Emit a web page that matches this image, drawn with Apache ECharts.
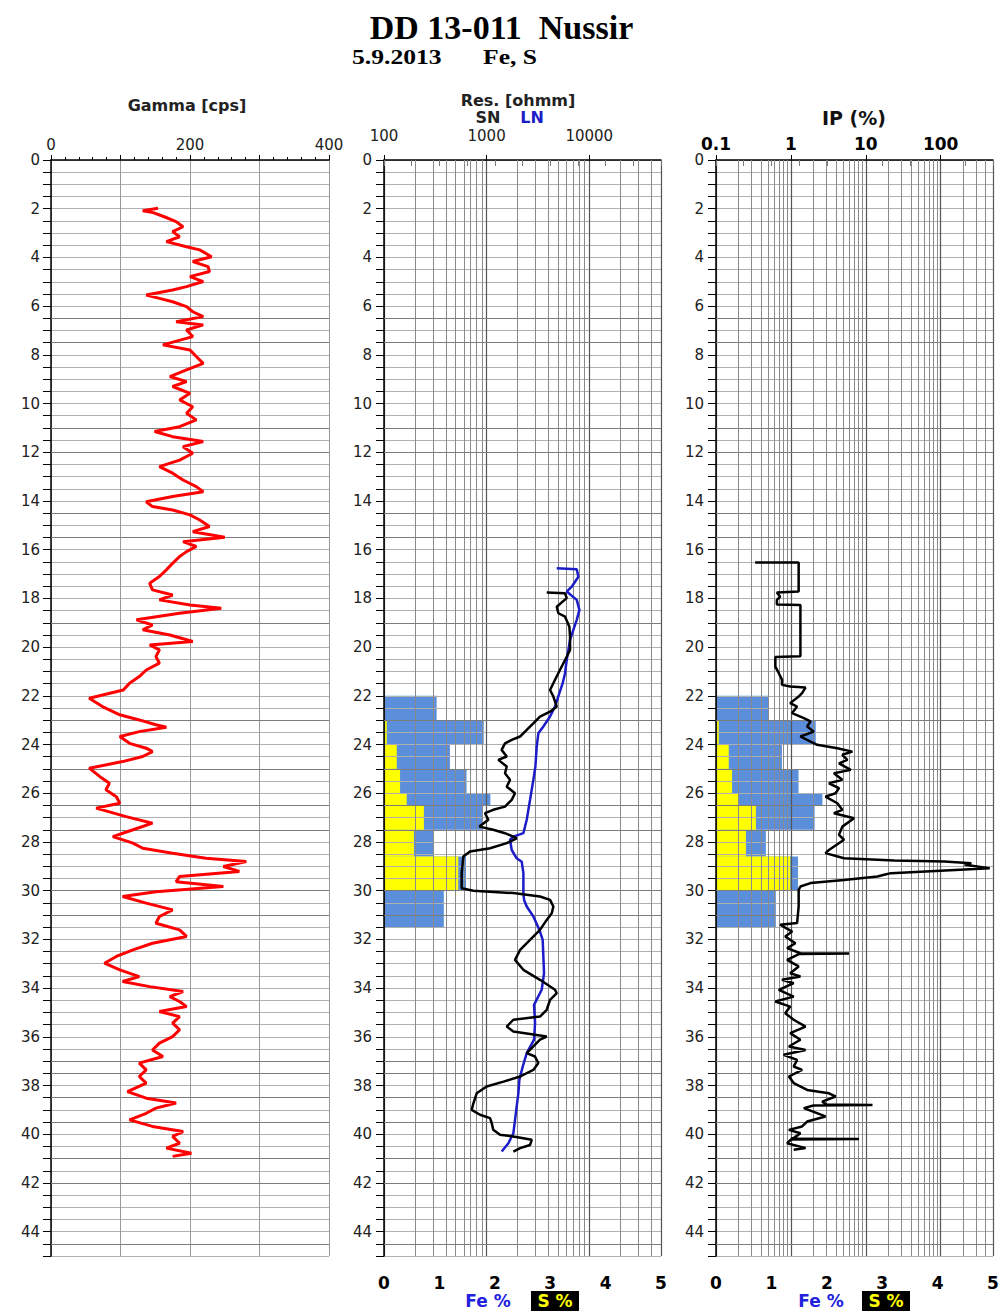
<!DOCTYPE html>
<html><head><meta charset="utf-8">
<script src="https://cdn.jsdelivr.net/npm/echarts@6.0.0/dist/echarts.min.js"></script>
<style>html,body{margin:0;padding:0;background:#fff}#c{width:1003px;height:1311px}</style>
</head><body><div id="c"></div>
<script>
// ---------- DATA ----------
// Gamma [cps] : [depth m, cps]
const gammaLog = [[1.98,154],[2.08,132],[2.16,147],[2.33,163],[2.53,180],[2.74,190],[2.94,175],[3.15,185],[3.35,166],[3.56,195],[3.69,214],[3.97,231],[4.17,204],[4.38,226],[4.58,228],[4.79,200],[4.99,219],[5.20,195],[5.34,175],[5.54,137],[5.68,156],[5.82,175],[6.02,195],[6.23,204],[6.43,219],[6.64,180],[6.77,219],[6.98,195],[7.25,204],[7.59,161],[7.80,200],[8.07,209],[8.35,219],[8.62,195],[8.89,171],[9.10,195],[9.30,175],[9.58,200],[9.85,185],[10.13,204],[10.40,195],[10.67,209],[10.95,185],[11.15,149],[11.36,175],[11.56,219],[11.77,190],[12.04,204],[12.32,185],[12.59,156],[12.86,175],[13.14,190],[13.41,209],[13.62,219],[13.82,175],[14.03,137],[14.23,146],[14.37,175],[14.57,200],[14.78,214],[15.05,228],[15.26,204],[15.49,250],[15.67,190],[15.87,209],[16.08,195],[16.28,185],[16.56,175],[16.83,166],[17.10,156],[17.38,142],[17.65,146],[17.86,175],[18.06,156],[18.27,200],[18.40,245],[18.61,185],[18.88,123],[19.09,146],[19.29,132],[19.50,171],[19.77,204],[19.91,142],[20.11,156],[20.39,151],[20.66,156],[20.94,137],[21.21,127],[21.48,113],[21.76,104],
[22.10,55],[22.44,74],[22.78,99],[22.99,127],[23.19,151],[23.29,166],[23.47,127],[23.67,99],[23.95,113],[24.15,137],[24.29,146],[24.49,132],[24.70,103],[24.97,55],[25.31,70],[25.59,84],[25.86,79],[26.14,94],[26.41,99],[26.61,65],[26.96,108],[27.23,146],[27.50,118],[27.78,89],[28.05,118],[28.26,132],[28.46,175],[28.67,223],[28.80,281],[29.01,248],[29.21,271],[29.42,185],[29.63,180],[29.83,248],[30.04,151],[30.24,103],[30.51,137],[30.79,175],[31.06,156],[31.34,151],[31.61,185],[31.88,195],[32.16,146],[32.43,118],[32.70,94],[32.98,77],[33.25,99],[33.53,127],[33.73,103],[33.94,142],[34.14,190],[34.35,171],[34.55,185],[34.76,195],[34.96,156],[35.17,185],[35.44,175],[35.71,185],[35.99,175],[36.26,156],[36.54,146],[36.81,161],[37.08,127],[37.36,137],[37.63,127],[37.90,137],[38.25,110],[38.52,137],[38.72,180],[38.93,151],[39.14,137],[39.41,113],[39.68,146],[39.89,190],[40.09,175],[40.37,185],[40.57,166],[40.78,202],[40.91,175]];

// Resistivity [ohmm] : [depth m, ohmm]
const lnLog = [[16.76,4817],[16.80,7551],[17.11,7834],[17.52,6745],[17.72,6028],[18.06,7551],[18.47,8017],[18.88,7551],[19.29,6998],[19.70,6501],[20.12,6262],[20.53,6028],[21.07,5808],[21.48,5509],[21.89,5114],[22.44,4641],[22.85,4150],[23.26,3571],[23.54,3191],[24.08,3076],[24.90,2986],[25.45,2853],[26.27,2649],[27.09,2459],[27.64,2281],[27.78,1822],[27.91,1691],[28.33,1755],[28.67,1963],[28.81,2198],[29.28,2281],[30.10,2281],[30.38,2316],[30.65,2459],[31.06,2853],[31.61,3266],[32.02,3517],[32.70,3571],[33.39,3625],[34.07,3440],[34.69,2897],[35.44,2963],[36.12,2897],[36.67,2459],[37.22,2248],[37.77,2084],[38.32,2037],[38.86,1963],[39.41,1891],[39.96,1822],[40.37,1629],[40.71,1403]];
const snLog = [[17.76,3850],[17.79,5810],[17.99,6030],[18.34,4820],[18.61,5000],[18.75,5810],[19.16,6400],[19.57,6500],[20.12,6500],[20.53,5810],[20.93,5190],[21.34,4640],[21.76,4150],[22.03,4470],[22.44,4820],[22.65,4150],[22.85,3310],[23.13,2850],[23.40,2460],[23.67,2120],[23.81,1755],[23.95,1510],[24.22,1400],[24.49,1570],[24.63,1300],[24.90,1570],[25.18,1510],[25.45,1690],[25.73,1570],[26.00,1890],[26.27,1755],[26.55,1510],[26.68,1160],[26.82,964],[27.09,1040],[27.37,849],[27.50,1160],[27.64,1510],[27.78,1820],[27.85,1960],[28.05,1570],[28.26,1080],[28.39,689],[28.60,593],[29.28,571],[29.90,571],[30.00,743],[30.10,1820],[30.24,3310],[30.38,4150],[30.65,4470],[30.93,4310],[31.20,3850],[31.61,3310],[32.02,2650],[32.43,2120],[32.84,1890],[33.25,2280],[33.66,3310],[34.07,4640],[34.21,4820],[34.48,4150],[34.89,3850],[35.17,3310],[35.30,1820],[35.58,1570],[35.78,1820],[35.99,3850],[36.12,3310],[36.67,2460],[36.81,2960],[37.08,3190],[37.36,2850],[37.63,2120],[37.84,1460],[38.04,1000],[38.32,800],[38.73,743],[39.00,715],[39.20,862],[39.34,1080],[39.54,1120],[39.82,1160],[40.02,1350],[40.09,1820],[40.23,2750],[40.44,2650],[40.57,2120],[40.71,1820]];

// IP (%) : [depth m, %]
const ipLog = [[16.53,0.333],[16.53,1.27],[17.72,1.27],[17.76,0.65],[17.93,0.72],[18.06,0.65],[18.25,0.65],[18.27,1.34],[20.38,1.34],[20.41,0.62],[20.80,0.62],[21.07,0.69],[21.34,0.76],[21.55,0.76],[21.62,0.98],[21.66,1.57],[21.89,1.41],[22.03,1.27],[22.30,0.98],[22.44,1.21],[22.71,1.04],[22.92,1.49],[23.05,1.83],[23.26,1.65],[23.47,2.02],[23.67,1.34],[23.88,1.83],[24.01,2.24],[24.15,4.17],[24.29,6.62],[24.42,4.86],[24.63,5.67],[24.77,4.39],[25.04,6.29],[25.18,3.76],[25.45,4.86],[25.59,3.22],[25.79,4.39],[26.00,3.95],[26.14,2.90],[26.41,4.17],[26.68,4.86],[26.82,3.76],[27.03,6.97],[27.37,4.86],[27.71,4.39],[27.91,5.12],[28.33,3.22],[28.46,2.90],[28.67,5.12],[28.76,24.0],[28.80,112],[28.87,257],[28.94,209],[29.08,452],[29.28,21.7],[29.35,17.6],[29.42,14.3],[29.56,5.12],[29.69,1.83],[29.83,1.34],[29.97,1.27],[30.65,1.27],[31.33,1.21],[31.40,0.72],[31.68,1.04],[31.88,0.84],[32.16,1.15],[32.36,0.89],[32.57,1.34],[32.58,5.97],[32.60,1.30],[32.84,0.89],[33.11,1.27],[33.39,0.98],[33.52,1.34],[33.66,0.76],[33.80,1.09],[34.07,0.69],[34.35,1.09],[34.55,0.62],[34.76,0.98],[35.03,0.84],[35.30,1.09],[35.58,1.57],[35.85,0.98],[36.12,1.34],[36.40,0.94],[36.54,1.57],[36.74,0.80],[36.95,1.21],[37.22,1.09],[37.36,1.41],[37.63,0.94],[37.90,1.09],[38.18,1.65],[38.32,3.22],[38.45,3.95],[38.66,2.62],[38.78,3.0],[38.80,12.3],[38.82,2.0],[38.93,1.49],[39.27,2.90],[39.48,1.65],[39.68,1.41],[39.82,0.94],[39.96,1.34],[40.16,1.09],[40.19,1.0],[40.20,8.13],[40.22,1.0],[40.37,0.89],[40.57,1.57],[40.64,1.09]];

// Assay intervals
const sampleTop    = [22.0, 23.0, 24.0, 25.0, 26.0, 26.5, 27.5, 28.6, 30.0];
const sampleBottom = [23.0, 24.0, 25.0, 26.0, 26.5, 27.5, 28.6, 30.0, 31.5];
const fePct        = [0.95, 1.80, 1.19, 1.49, 1.92, 1.78, 0.90, 1.48, 1.08];
const sPct         = [0,    0.05, 0.23, 0.29, 0.41, 0.72, 0.54, 1.34, 0];

// Tick / grid values
const depthLabels = [0,2,4,6,8,10,12,14,16,18,20,22,24,26,28,30,32,34,36,38,40,42,44];
const boxDepths = [6.5,7.5,11,12,14.5,15.5,19,23,25,26.5,27.5,30,31,37,37.5,38.5,39.5,41,42,44.5];
const gammaLabels = [0,200,400];
const resLabels = [100,1000,10000];
const resMinorGrid = [200,300,400,500,600,700,800,900,2000,3000,4000,5000,6000,7000,8000,9000,20000,30000,40000];
const ipLabels = [0.1,1,10,100];
const ipMinorGrid = [0.2,0.3,0.4,0.5,0.6,0.7,0.8,0.9,2,3,4,5,6,7,8,9,20,30,40,50,60,70,80,90,200,300,400];

// ---------- CHART ----------
const chart = echarts.init(document.getElementById('c'), null, {renderer:'svg'});
const FONT = 'DejaVu Sans';
const grids = [
  {left:51, top:160, width:278, height:1096},
  {left:384, top:160, width:277, height:1096},
  {left:716, top:160, width:277, height:1096}
];
function yAxisFor(i, margin){
  return {
    type:'value', gridIndex:i, inverse:true, min:0, max:45, interval:0.5, z:3,
    axisLine:{show:true, onZero:false, lineStyle:{color:'#000', width:1.5}},
    axisTick:{show:true, length:8, lineStyle:{color:'#000', width:1}},
    axisLabel:{margin:margin, fontFamily:FONT, fontSize:15, color:'#222',
      formatter:v => depthLabels.indexOf(v) >= 0 ? String(v) : ''},
    splitLine:{show:true, lineStyle:{color:'#b0b0b0', width:1}}
  };
}
function bars(xi, yi, vals, color){
  const rows = sampleTop.map((t,k)=>[t, sampleBottom[k], vals[k]]);
  return {
    type:'custom', coordinateSystem:'cartesian2d', xAxisIndex:xi, yAxisIndex:yi, z:2,
    silent:true, animation:false, data:rows, encode:{x:2, y:[0,1]},
    renderItem:function(params, api){
      const p0 = api.coord([0, api.value(0)]);
      const p1 = api.coord([api.value(2), api.value(1)]);
      return {type:'rect', shape:{x:p0[0], y:p0[1], width:p1[0]-p0[0], height:p1[1]-p0[1]}, style:{fill:color}};
    }
  };
}
function gridLines(xi, yi, vals){
  const data = vals.map(v=>({xAxis:v}))
    .concat(boxDepths.map(d=>({yAxis:d, lineStyle:{color:'#7c7c7c', width:1.2}})));
  return {
    type:'line', xAxisIndex:xi, yAxisIndex:yi, data:[], z:3, silent:true, animation:false,
    markLine:{silent:true, symbol:['none','none'], label:{show:false}, animation:false,
      lineStyle:{color:'#8a8a8a', width:1, type:'solid'}, data:data}
  };
}
const option = {
  animation:false,
  backgroundColor:'#fff',
  grid: grids.map(g=>Object.assign({outerBoundsMode:'none'}, g)),
  xAxis:[
    {type:'value', gridIndex:0, position:'top', min:0, max:400, interval:100, z:3,
     axisLine:{show:true, onZero:false, lineStyle:{color:'#000', width:1.5}},
     axisTick:{show:true, length:5, lineStyle:{color:'#000'}},
     minorTick:{show:true, splitNumber:5, length:3, lineStyle:{color:'#000'}},
     axisLabel:{margin:8, fontFamily:FONT, fontSize:15, color:'#222',
       formatter:v => gammaLabels.indexOf(v) >= 0 ? String(v) : ''},
     splitLine:{show:true, lineStyle:{color:'#9a9a9a', width:1}}},
    {type:'log', logBase:10, gridIndex:1, position:'top', min:100, max:50000, z:3,
     axisLine:{show:true, onZero:false, lineStyle:{color:'#000', width:1.5}},
     axisTick:{show:true, length:5, lineStyle:{color:'#000'}},
     axisLabel:{margin:17, fontFamily:FONT, fontSize:15, color:'#222', showMaxLabel:false,
       formatter:v => resLabels.indexOf(Math.round(v)) >= 0 ? String(Math.round(v)) : ''},
     splitLine:{show:true, lineStyle:{color:'#555', width:1.2}}},
    {type:'value', gridIndex:1, position:'bottom', min:0, max:5, interval:1, z:3,
     axisLine:{show:false},
     axisTick:{show:true, length:6, lineStyle:{color:'#777'}},
     minorTick:{show:true, splitNumber:2, length:6, lineStyle:{color:'#777'}},
     axisLabel:{margin:18, fontFamily:FONT, fontSize:17, fontWeight:'bold', color:'#000'},
     splitLine:{show:false}},
    {type:'log', logBase:10, gridIndex:2, position:'top', min:0.1, max:500, z:3,
     axisLine:{show:true, onZero:false, lineStyle:{color:'#000', width:1.5}},
     axisTick:{show:true, length:5, lineStyle:{color:'#000'}},
     axisLabel:{margin:8, fontFamily:FONT, fontSize:17, fontWeight:'bold', color:'#000', showMaxLabel:false,
       formatter:v => { const r = Math.round(v*10)/10; return ipLabels.indexOf(r) >= 0 ? String(r) : ''; }},
     splitLine:{show:true, lineStyle:{color:'#555', width:1.2}}},
    {type:'value', gridIndex:2, position:'bottom', min:0, max:5, interval:1, z:3,
     axisLine:{show:false},
     axisTick:{show:true, length:6, lineStyle:{color:'#777'}},
     minorTick:{show:true, splitNumber:2, length:6, lineStyle:{color:'#777'}},
     axisLabel:{margin:18, fontFamily:FONT, fontSize:17, fontWeight:'bold', color:'#000'},
     splitLine:{show:false}}
  ],
  yAxis:[yAxisFor(0,11), yAxisFor(1,12), yAxisFor(2,12)],
  series:[
    gridLines(0, 0, []),
    {type:'line', name:'Gamma', xAxisIndex:0, yAxisIndex:0, z:5, showSymbol:false, animation:false,
     data:gammaLog.map(d=>[d[1], d[0]]), lineStyle:{color:'#ff0000', width:3}},
    bars(2, 1, fePct, '#5b8edb'),
    bars(2, 1, sPct, '#ffff00'),
    gridLines(1, 1, resMinorGrid),
    {type:'line', name:'LN', xAxisIndex:1, yAxisIndex:1, z:5, showSymbol:false, animation:false,
     data:lnLog.map(d=>[d[1], d[0]]), lineStyle:{color:'#1c1cc8', width:2.5}},
    {type:'line', name:'SN', xAxisIndex:1, yAxisIndex:1, z:6, showSymbol:false, animation:false,
     data:snLog.map(d=>[d[1], d[0]]), lineStyle:{color:'#000', width:2.5}},
    bars(4, 2, fePct, '#5b8edb'),
    bars(4, 2, sPct, '#ffff00'),
    gridLines(3, 2, ipMinorGrid),
    {type:'line', name:'IP', xAxisIndex:3, yAxisIndex:2, z:5, showSymbol:false, animation:false,
     data:ipLog.map(d=>[d[1], d[0]]), lineStyle:{color:'#000', width:2.5}}
  ],
  graphic:[
    {type:'text', left:'center', top:10, style:{text:'DD 13-011\u00a0\u00a0Nussir', font:'bold 34px "Liberation Serif"', fill:'#000'}, x:-10},
    {type:'text', x:352, y:46, scaleX:1.22, style:{text:'5.9.2013', font:'bold 21px "Liberation Serif"', fill:'#000'}},
    {type:'text', x:483, y:46, scaleX:1.22, style:{text:'Fe, S', font:'bold 21px "Liberation Serif"', fill:'#000'}},
    {type:'text', x:187, y:105, style:{text:'Gamma [cps]', font:'bold 16px "DejaVu Sans"', fill:'#222', align:'center', verticalAlign:'middle'}},
    {type:'text', x:518, y:100, style:{text:'Res. [ohmm]', font:'bold 16px "DejaVu Sans"', fill:'#222', align:'center', verticalAlign:'middle'}},
    {type:'text', x:488, y:117, style:{text:'SN', font:'bold 16px "DejaVu Sans"', fill:'#222', align:'center', verticalAlign:'middle'}},
    {type:'text', x:532, y:117, style:{text:'LN', font:'bold 16px "DejaVu Sans"', fill:'#1c1cc8', align:'center', verticalAlign:'middle'}},
    {type:'text', x:854, y:118, style:{text:'IP (%)', font:'bold 19px "DejaVu Sans"', fill:'#111', align:'center', verticalAlign:'middle'}},
    {type:'text', x:488, y:1301, style:{text:'Fe %', font:'bold 17px "DejaVu Sans"', fill:'#2222dd', align:'center', verticalAlign:'middle'}},
    {type:'rect', shape:{x:531, y:1291, width:48, height:20}, style:{fill:'#000'}},
    {type:'text', x:555, y:1301, style:{text:'S %', font:'bold 17px "DejaVu Sans"', fill:'#ffff00', align:'center', verticalAlign:'middle'}},
    {type:'text', x:821, y:1301, style:{text:'Fe %', font:'bold 17px "DejaVu Sans"', fill:'#2222dd', align:'center', verticalAlign:'middle'}},
    {type:'rect', shape:{x:862, y:1291, width:48, height:20}, style:{fill:'#000'}},
    {type:'text', x:886, y:1301, style:{text:'S %', font:'bold 17px "DejaVu Sans"', fill:'#ffff00', align:'center', verticalAlign:'middle'}}
  ]
};
chart.setOption(option);
</script>
</body></html>
